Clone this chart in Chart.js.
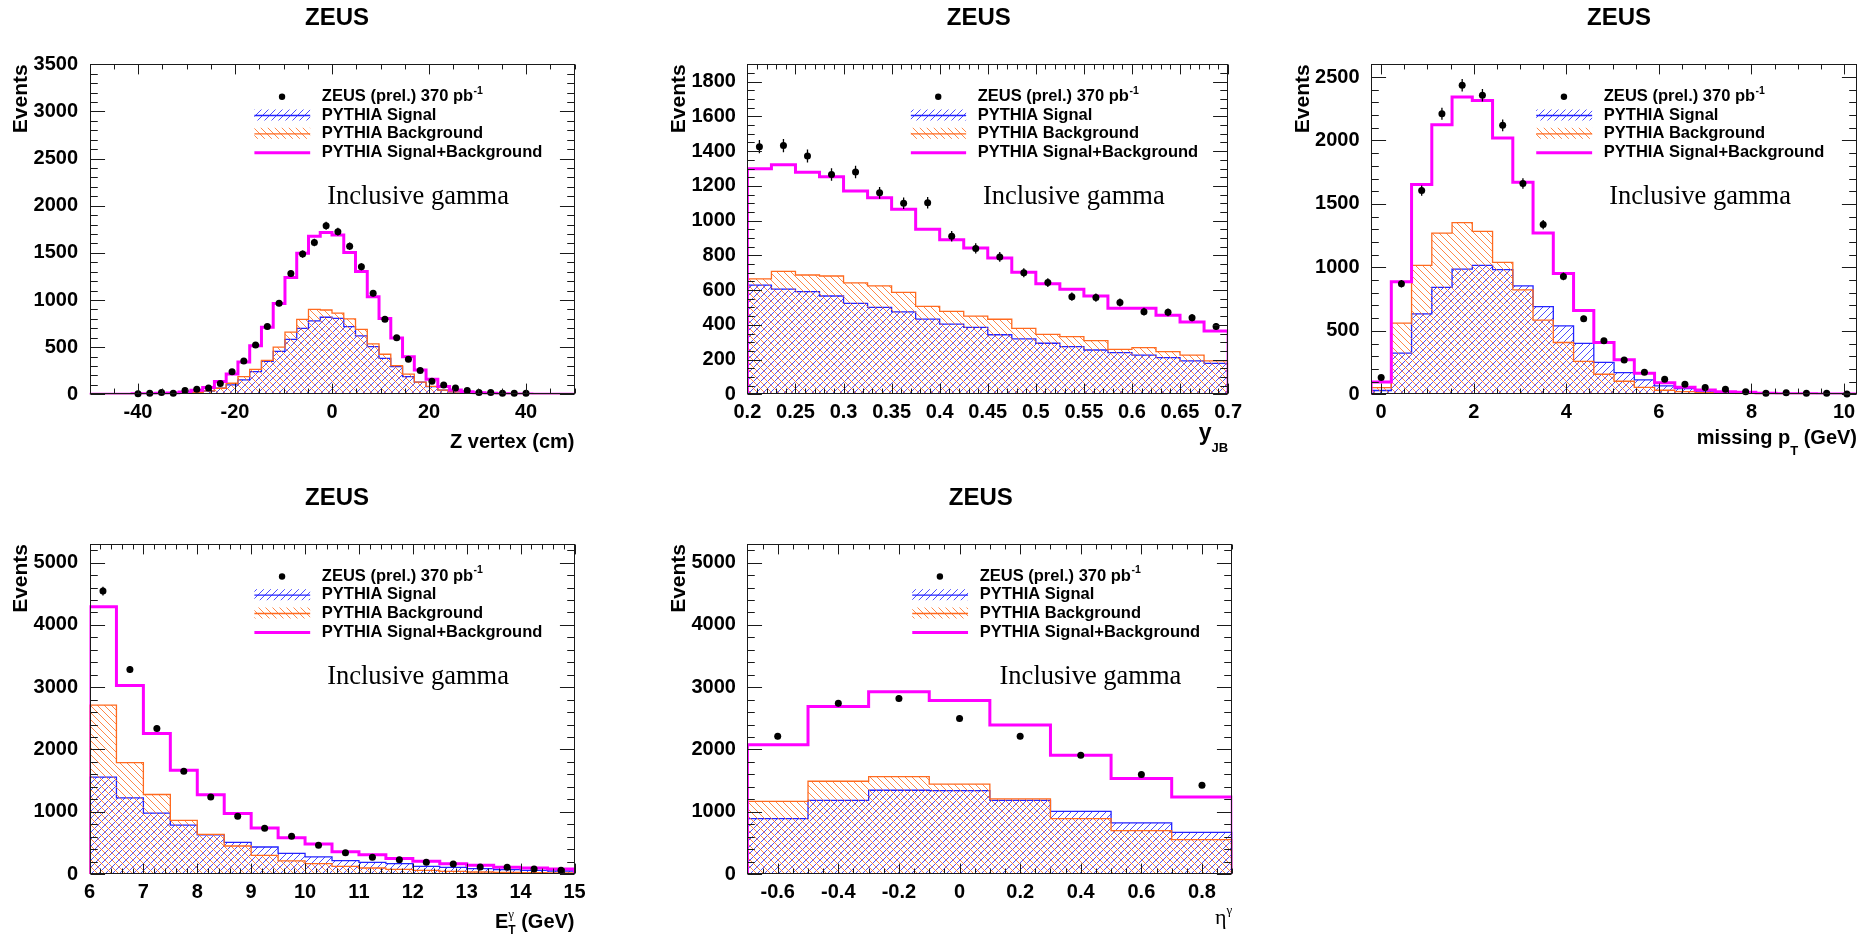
<!DOCTYPE html>
<html>
<head>
<meta charset="utf-8">
<title>ZEUS inclusive gamma control plots</title>
<script src="https://cdn.jsdelivr.net/npm/chart.js@4.4.1/dist/chart.umd.min.js"></script>
<style>
html, body { margin: 0; padding: 0; background: #fff; }
#page { position: relative; width: 1872px; height: 937px; overflow: hidden; background: #fff; }
#page canvas { position: absolute; }
</style>
</head>
<body>
<div id="page"></div>
<script>
// ====================== DATA ======================
// Panel 1 : Z vertex (cm)
const zFirstCenter = -40;
const zBinWidth = 80 / 33;
const zXRange = [-50, 50];
const zYMax = 3500;
const zXTicks = [-40, -20, 0, 20, 40];
const zYTicks = [0, 500, 1000, 1500, 2000, 2500, 3000, 3500];
const zData = [5, 12, 20, 12, 40, 53, 66, 115, 240, 354, 524, 718, 966, 1280, 1487, 1610, 1788, 1725, 1570, 1354, 1071, 795, 600, 371, 252, 138, 99, 66, 39, 18, 18, 10, 12, 10];
const zErr = [3, 4, 5, 4, 7, 8, 9, 11, 16, 19, 23, 27, 31, 36, 39, 40, 42, 42, 40, 37, 33, 28, 25, 19, 16, 12, 10, 8, 6, 4, 4, 3, 3, 3];
const zSignal = [2, 3, 5, 6, 10, 21, 35, 64, 99, 152, 240, 350, 455, 583, 700, 778, 817, 806, 718, 619, 505, 382, 293, 187, 130, 81, 45, 25, 14, 8, 5, 3, 2, 2];
const zBackground = [3, 4, 6, 8, 15, 22, 36, 64, 117, 187, 265, 360, 500, 660, 795, 900, 894, 860, 800, 689, 535, 425, 305, 215, 130, 85, 45, 25, 14, 8, 5, 3, 2, 2];
const zTotal = [5, 7, 11, 14, 25, 43, 71, 135, 215, 342, 515, 712, 962, 1240, 1495, 1675, 1715, 1690, 1505, 1302, 1035, 803, 598, 397, 258, 160, 82, 46, 28, 16, 10, 6, 4, 4];

// Panel 2 : y_JB
const yjbCenters = [0.2125, 0.2375, 0.2625, 0.2875, 0.3125, 0.3375, 0.3625, 0.3875, 0.4125, 0.4375, 0.4625, 0.4875, 0.5125, 0.5375, 0.5625, 0.5875, 0.6125, 0.6375, 0.6625, 0.6875];
const yjbBinWidth = 0.025;
const yjbXRange = [0.2, 0.7];
const yjbYMax = 1900;
const yjbXTicks = [0.2, 0.25, 0.3, 0.35, 0.4, 0.45, 0.5, 0.55, 0.6, 0.65, 0.7];
const yjbYTicks = [0, 200, 400, 600, 800, 1000, 1200, 1400, 1600, 1800];
const yjbData = [1426, 1432, 1372, 1266, 1280, 1160, 1100, 1103, 910, 840, 791, 700, 643, 562, 557, 528, 476, 472, 441, 390];
const yjbErr = [38, 38, 37, 36, 36, 34, 33, 33, 30, 29, 28, 26, 25, 24, 24, 23, 22, 22, 21, 20];
const yjbSignal = [629, 606, 591, 566, 524, 500, 475, 433, 404, 385, 343, 319, 294, 274, 255, 240, 226, 211, 192, 178];
const yjbBackground = [664, 708, 687, 681, 641, 624, 587, 506, 477, 450, 432, 380, 345, 332, 309, 259, 269, 246, 226, 192];
const yjbTotal = [1299, 1322, 1279, 1252, 1170, 1132, 1066, 950, 890, 843, 785, 702, 637, 605, 566, 495, 495, 455, 416, 365];

// Panel 3 : missing pT (GeV)
const ptFirstCenter = 0;
const ptBinWidth = 0.4375;
const ptXRange = [-0.22, 10.28];
const ptYMax = 2600;
const ptXTicks = [0, 2, 4, 6, 8, 10];
const ptYTicks = [0, 500, 1000, 1500, 2000, 2500];
const ptData = [132, 871, 1605, 2211, 2435, 2356, 2119, 1661, 1337, 929, 595, 421, 271, 174, 118, 79, 53, 39, 21, 8, 13, 8, 8, 3];
const ptErr = [12, 30, 40, 47, 49, 49, 46, 41, 37, 30, 24, 21, 16, 13, 11, 9, 7, 6, 5, 3, 4, 3, 3, 2];
const ptSignal = [30, 324, 634, 842, 987, 1015, 983, 854, 691, 539, 402, 252, 170, 113, 66, 45, 26, 16, 8, 6, 4, 3, 2, 2];
const ptBackground = [52, 560, 1015, 1270, 1353, 1283, 1040, 823, 584, 408, 260, 158, 103, 55, 32, 21, 13, 8, 5, 3, 2, 2, 1, 1];
const ptTotal = [97, 887, 1653, 2123, 2342, 2314, 2019, 1671, 1270, 951, 660, 409, 272, 165, 91, 55, 34, 21, 16, 8, 5, 4, 3, 3];

// Panel 4 : E_T^gamma (GeV)
const etCenters = [6.25, 6.75, 7.25, 7.75, 8.25, 8.75, 9.25, 9.75, 10.25, 10.75, 11.25, 11.75, 12.25, 12.75, 13.25, 13.75, 14.25, 14.75];
const etBinWidth = 0.5;
const etXRange = [6, 15];
const etYMax = 5300;
const etXTicks = [6, 7, 8, 9, 10, 11, 12, 13, 14, 15];
const etYTicks = [0, 1000, 2000, 3000, 4000, 5000];
const etData = [4544, 3285, 2337, 1651, 1238, 927, 734, 606, 461, 343, 268, 230, 188, 161, 113, 107, 80, 59];
const etErr = [70, 57, 48, 41, 35, 30, 27, 25, 21, 19, 16, 15, 14, 13, 11, 10, 9, 8];
const etSignal = [1556, 1223, 978, 785, 629, 509, 434, 330, 275, 214, 188, 166, 123, 107, 86, 70, 59, 48];
const etBackground = [2713, 1789, 1277, 860, 635, 450, 300, 210, 166, 123, 96, 75, 59, 43, 32, 27, 21, 16];
const etTotal = [4293, 3028, 2257, 1665, 1272, 972, 738, 582, 483, 356, 311, 247, 204, 166, 139, 107, 96, 80];

// Panel 5 : eta^gamma
const etaCenters = [-0.6, -0.4, -0.2, 0, 0.2, 0.4, 0.6, 0.8];
const etaBinWidth = 0.2;
const etaXRange = [-0.7, 0.9];
const etaYMax = 5300;
const etaXTicks = [-0.6, -0.4, -0.2, 0, 0.2, 0.4, 0.6, 0.8];
const etaYTicks = [0, 1000, 2000, 3000, 4000, 5000];
const etaData = [2213, 2744, 2819, 2497, 2213, 1908, 1597, 1426];
const etaErr = [47, 52, 53, 50, 47, 44, 40, 38];
const etaSignal = [890, 1184, 1345, 1340, 1184, 1007, 820, 670];
const etaBackground = [1168, 1490, 1565, 1442, 1206, 890, 697, 552];
const etaTotal = [2074, 2690, 2926, 2787, 2395, 1908, 1533, 1238];

// Text
const titleText = 'ZEUS';
const yTitleText = 'Events';
const legendData = 'ZEUS (prel.) 370 pb';
const legendDataSup = '-1';
const legendSignal = 'PYTHIA Signal';
const legendBackground = 'PYTHIA Background';
const legendTotal = 'PYTHIA Signal+Background';
const labelText = 'Inclusive gamma';

// ====================== STYLE ======================
const SANS = '"Liberation Sans", Arial, Helvetica, sans-serif';
const SERIF = '"Liberation Serif", "Times New Roman", serif';
const BLUE_LINE = '#2323ff';
const ORANGE_LINE = '#ff6a1f';
const MAGENTA = '#ff00ff';
const FRAME = '#1a1a1a';
const TICK_FONT = { family: SANS, size: 20, weight: 'bold' };

function hatchPattern(color, dir) {
  const s = 7;
  const c = document.createElement('canvas');
  c.width = s; c.height = s;
  const g = c.getContext('2d');
  g.strokeStyle = color;
  g.lineWidth = 1;
  g.beginPath();
  if (dir === '/') {
    g.moveTo(-1, s + 1); g.lineTo(s + 1, -1);
    g.moveTo(-1, 1); g.lineTo(1, -1);
    g.moveTo(s - 1, s + 1); g.lineTo(s + 1, s - 1);
  } else {
    g.moveTo(-1, -1); g.lineTo(s + 1, s + 1);
    g.moveTo(-1, s - 1); g.lineTo(1, s + 1);
    g.moveTo(s - 1, -1); g.lineTo(s + 1, 1);
  }
  g.stroke();
  return g.createPattern(c, 'repeat');
}
const BLUE_HATCH = hatchPattern('rgba(45,45,255,0.85)', '/');
const ORANGE_HATCH = hatchPattern('rgba(255,115,40,0.85)', '\\');

function centersFrom(first, width, n) {
  const out = [];
  for (let i = 0; i < n; i++) out.push(first + i * width);
  return out;
}

function histPoints(centers, width, vals, xr) {
  const pts = [];
  const lo0 = centers[0] - width / 2;
  const hiN = centers[centers.length - 1] + width / 2;
  if (xr[0] < lo0 - 1e-9) pts.push({ x: xr[0], y: 0 });
  pts.push({ x: lo0, y: 0 });
  centers.forEach((c, i) => {
    pts.push({ x: c - width / 2, y: vals[i] });
    pts.push({ x: c + width / 2, y: vals[i] });
  });
  pts.push({ x: hiN, y: 0 });
  if (xr[1] > hiN + 1e-9) pts.push({ x: xr[1], y: 0 });
  return pts;
}

function fmt(v) { return String(Number(Number(v).toFixed(6))); }

function gridVals(min, max, step) {
  const out = [];
  const k0 = Math.ceil(min / step - 1e-6);
  for (let k = k0; k * step <= max + step * 1e-6; k++) out.push(k * step);
  return out;
}

function drawRichRight(ctx, parts, xRight, baseY) {
  let total = 0;
  parts.forEach(p => { ctx.font = p.f; p.w = ctx.measureText(p.t).width; if (p.adv !== false) total += p.w; });
  let x = xRight - total;
  ctx.textAlign = 'left';
  ctx.textBaseline = 'alphabetic';
  parts.forEach(p => {
    ctx.font = p.f;
    ctx.fillText(p.t, x, baseY + (p.dy || 0));
    if (p.adv !== false) x += p.w;
  });
}

// ====================== PANELS ======================
const panels = [
  { id: 'z', box: { x: 0, y: 0, w: 624, h: 468 }, area: { l: 89.5, r: 574.5, t: 64.3, b: 394.3 },
    centers: centersFrom(zFirstCenter, zBinWidth, zData.length), binWidth: zBinWidth, xRange: zXRange, yMax: zYMax,
    xTicks: zXTicks, yTicks: zYTicks, data: zData, err: zErr, signal: zSignal, background: zBackground, total: zTotal,
    xMajor: 20, xMinor: 5, yMajor: 500, yMinor: 100, labelX: 0.49, titleDx: 5,
    xTitle: [{ t: 'Z vertex (cm)', f: 'bold 20px ' + SANS }], xTitleDy: 54 },
  { id: 'yjb', box: { x: 624, y: 0, w: 624, h: 468 }, area: { l: 123.4, r: 608.3, t: 64.3, b: 394.3 },
    centers: yjbCenters, binWidth: yjbBinWidth, xRange: yjbXRange, yMax: yjbYMax,
    xTicks: yjbXTicks, yTicks: yjbYTicks, data: yjbData, err: yjbErr, signal: yjbSignal, background: yjbBackground, total: yjbTotal,
    xMajor: 0.05, xMinor: 0.01, yMajor: 200, yMinor: 50, labelX: 0.49, titleDx: -9,
    xTitle: [{ t: 'y', f: 'bold 23px ' + SANS }, { t: 'JB', f: 'bold 13px ' + SANS, dy: 12 }], xTitleDy: 46 },
  { id: 'pt', box: { x: 1248, y: 0, w: 624, h: 468 }, area: { l: 123, r: 609, t: 64.3, b: 394.3 },
    centers: centersFrom(ptFirstCenter, ptBinWidth, ptData.length), binWidth: ptBinWidth, xRange: ptXRange, yMax: ptYMax,
    xTicks: ptXTicks, yTicks: ptYTicks, data: ptData, err: ptErr, signal: ptSignal, background: ptBackground, total: ptTotal,
    xMajor: 2, xMinor: 0.5, yMajor: 500, yMinor: 100, labelX: 0.49, titleDx: 5,
    xTitle: [{ t: 'missing p', f: 'bold 20px ' + SANS }, { t: 'T', f: 'bold 13px ' + SANS, dy: 11 }, { t: ' (GeV)', f: 'bold 20px ' + SANS }], xTitleDy: 50 },
  { id: 'et', box: { x: 0, y: 468, w: 624, h: 469 }, area: { l: 89.5, r: 574.5, t: 76, b: 406 },
    centers: etCenters, binWidth: etBinWidth, xRange: etXRange, yMax: etYMax,
    xTicks: etXTicks, yTicks: etYTicks, data: etData, err: etErr, signal: etSignal, background: etBackground, total: etTotal,
    xMajor: 1, xMinor: 0.2, yMajor: 1000, yMinor: 200, labelX: 0.49, titleDx: 5,
    xTitle: [{ t: 'E', f: 'bold 20px ' + SANS }, { t: 'γ', f: '13px ' + SERIF, dy: -10, adv: false }, { t: 'T', f: 'bold 12px ' + SANS, dy: 6 }, { t: ' (GeV)', f: 'bold 20px ' + SANS }], xTitleDy: 54 },
  { id: 'eta', box: { x: 624, y: 468, w: 624, h: 469 }, area: { l: 123.4, r: 608.3, t: 76, b: 406 },
    centers: etaCenters, binWidth: etaBinWidth, xRange: etaXRange, yMax: etaYMax,
    xTicks: etaXTicks, yTicks: etaYTicks, data: etaData, err: etaErr, signal: etaSignal, background: etaBackground, total: etaTotal,
    xMajor: 0.2, xMinor: 0.05, yMajor: 1000, yMinor: 200, labelX: 0.52, titleDx: -9,
    xTitle: [{ t: 'η', f: '22px ' + SERIF }, { t: 'γ', f: '13px ' + SERIF, dy: -10 }], xTitleDy: 50 }
];

function decoPlugin(p) {
  return {
    id: 'deco_' + p.id,
    afterDatasetsDraw(chart) {
      const ctx = chart.ctx, xs = chart.scales.x, ys = chart.scales.y;
      ctx.save();
      ctx.strokeStyle = '#000';
      ctx.lineWidth = 1.3;
      ctx.beginPath();
      p.centers.forEach((c, i) => {
        const px = xs.getPixelForValue(c);
        ctx.moveTo(px, ys.getPixelForValue(p.data[i] - p.err[i]));
        ctx.lineTo(px, ys.getPixelForValue(p.data[i] + p.err[i]));
      });
      ctx.stroke();
      ctx.restore();
    },
    afterDraw(chart) {
      const ctx = chart.ctx, a = chart.chartArea, xs = chart.scales.x, ys = chart.scales.y;
      const W = a.right - a.left, H = a.bottom - a.top;
      ctx.save();
      // frame
      ctx.strokeStyle = FRAME;
      ctx.lineWidth = 1;
      const L = Math.round(a.left) + 0.5, R = Math.round(a.right) - 0.5, T = Math.round(a.top) + 0.5, B = Math.round(a.bottom) - 0.5;
      ctx.strokeRect(L, T, R - L, B - T);
      // ticks (ROOT style, inward, all four sides)
      const xMajLen = 0.03 * H, yMajLen = 0.03 * W;
      ctx.beginPath();
      gridVals(p.xRange[0], p.xRange[1], p.xMinor).forEach(v => {
        const isMaj = Math.abs(v / p.xMajor - Math.round(v / p.xMajor)) < 1e-6;
        const len = isMaj ? xMajLen : xMajLen / 2;
        const px = Math.round(xs.getPixelForValue(v)) + 0.5;
        ctx.moveTo(px, B); ctx.lineTo(px, B - len);
        ctx.moveTo(px, T); ctx.lineTo(px, T + len);
      });
      gridVals(0, p.yMax, p.yMinor).forEach(v => {
        const isMaj = Math.abs(v / p.yMajor - Math.round(v / p.yMajor)) < 1e-6;
        const len = isMaj ? yMajLen : yMajLen / 2;
        const py = Math.round(ys.getPixelForValue(v)) + 0.5;
        ctx.moveTo(L, py); ctx.lineTo(L + len, py);
        ctx.moveTo(R, py); ctx.lineTo(R - len, py);
      });
      ctx.stroke();

      ctx.fillStyle = '#000';
      // title
      ctx.font = 'bold 24px ' + SANS;
      ctx.textAlign = 'center';
      ctx.textBaseline = 'middle';
      ctx.fillText(titleText, a.left + W / 2 + p.titleDx, a.top - 46);
      // y title
      ctx.save();
      ctx.translate(a.left - 68, a.top);
      ctx.rotate(-Math.PI / 2);
      ctx.font = 'bold 21px ' + SANS;
      ctx.textAlign = 'right';
      ctx.textBaseline = 'middle';
      ctx.fillText(yTitleText, 0, 0);
      ctx.restore();
      // x title
      drawRichRight(ctx, p.xTitle, a.right, a.bottom + p.xTitleDy);

      // legend
      const rows = [32.5, 50.7, 69, 88.4].map(d => a.top + d);
      const sx0 = a.left + 0.34 * W, sx1 = a.left + 0.455 * W;
      const tx = a.left + 0.479 * W;
      ctx.beginPath();
      ctx.arc(a.left + 0.397 * W, rows[0], 3.2, 0, Math.PI * 2);
      ctx.fill();
      // signal swatch
      ctx.fillStyle = BLUE_HATCH;
      ctx.fillRect(sx0, rows[1] - 5.5, sx1 - sx0, 11);
      ctx.strokeStyle = BLUE_LINE; ctx.lineWidth = 1.3;
      ctx.beginPath(); ctx.moveTo(sx0, rows[1] + 0.5); ctx.lineTo(sx1, rows[1] + 0.5); ctx.stroke();
      // background swatch
      ctx.fillStyle = ORANGE_HATCH;
      ctx.fillRect(sx0, rows[2] - 5.5, sx1 - sx0, 11);
      ctx.strokeStyle = ORANGE_LINE;
      ctx.beginPath(); ctx.moveTo(sx0, rows[2] + 0.5); ctx.lineTo(sx1, rows[2] + 0.5); ctx.stroke();
      // total swatch
      ctx.strokeStyle = MAGENTA; ctx.lineWidth = 3;
      ctx.beginPath(); ctx.moveTo(sx0, rows[3]); ctx.lineTo(sx1, rows[3]); ctx.stroke();
      // legend texts
      ctx.fillStyle = '#000';
      ctx.textAlign = 'left';
      ctx.textBaseline = 'middle';
      ctx.font = 'bold 16.5px ' + SANS;
      ctx.fillText(legendData, tx, rows[0]);
      const wd = ctx.measureText(legendData).width;
      ctx.font = 'bold 10.5px ' + SANS;
      ctx.fillText(legendDataSup, tx + wd + 0.5, rows[0] - 6);
      ctx.font = 'bold 16.5px ' + SANS;
      ctx.fillText(legendSignal, tx, rows[1]);
      ctx.fillText(legendBackground, tx, rows[2]);
      ctx.fillText(legendTotal, tx, rows[3]);
      // Inclusive gamma
      ctx.font = '26.5px ' + SERIF;
      ctx.fillText(labelText, a.left + p.labelX * W, a.top + 133);
      ctx.restore();
    }
  };
}

const page = document.getElementById('page');
panels.forEach(p => {
  const cv = document.createElement('canvas');
  cv.width = p.box.w; cv.height = p.box.h;
  cv.style.left = p.box.x + 'px'; cv.style.top = p.box.y + 'px';
  cv.style.width = p.box.w + 'px'; cv.style.height = p.box.h + 'px';
  page.appendChild(cv);
  new Chart(cv, {
    type: 'line',
    data: {
      datasets: [
        { label: legendSignal, data: histPoints(p.centers, p.binWidth, p.signal, p.xRange),
          borderColor: BLUE_LINE, borderWidth: 1.3, backgroundColor: BLUE_HATCH, fill: 'origin',
          pointRadius: 0, tension: 0, order: 3 },
        { label: legendBackground, data: histPoints(p.centers, p.binWidth, p.background, p.xRange),
          borderColor: ORANGE_LINE, borderWidth: 1.3, backgroundColor: ORANGE_HATCH, fill: 'origin',
          pointRadius: 0, tension: 0, order: 2 },
        { label: legendTotal, data: histPoints(p.centers, p.binWidth, p.total, p.xRange),
          borderColor: MAGENTA, borderWidth: 3, fill: false, pointRadius: 0, tension: 0, order: 1 },
        { label: legendData + legendDataSup, data: p.centers.map((c, i) => ({ x: c, y: p.data[i] })),
          showLine: false, pointRadius: 3.5, pointBackgroundColor: '#000', pointBorderColor: '#000',
          pointBorderWidth: 0, order: 0, clip: false }
      ]
    },
    options: {
      responsive: false,
      animation: false,
      devicePixelRatio: 1,
      events: [],
      layout: { padding: { left: 0, top: p.area.t, right: p.box.w - p.area.r, bottom: 0 } },
      plugins: { legend: { display: false }, tooltip: { enabled: false }, title: { display: false } },
      scales: {
        x: {
          type: 'linear', min: p.xRange[0], max: p.xRange[1],
          grid: { display: false, drawTicks: false }, border: { display: false },
          afterBuildTicks: ax => { ax.ticks = p.xTicks.map(v => ({ value: v })); },
          afterFit: ax => { ax.height = p.box.h - p.area.b; },
          ticks: { autoSkip: false, maxRotation: 0, minRotation: 0, padding: 6, color: '#000', font: TICK_FONT, callback: v => fmt(v) }
        },
        y: {
          type: 'linear', min: 0, max: p.yMax,
          grid: { display: false, drawTicks: false }, border: { display: false },
          afterBuildTicks: ax => { ax.ticks = p.yTicks.map(v => ({ value: v })); },
          afterFit: ax => { ax.width = p.area.l; },
          ticks: { padding: 11.5, color: '#000', font: TICK_FONT, callback: v => fmt(v) }
        }
      }
    },
    plugins: [decoPlugin(p)]
  });
});
</script>
</body>
</html>
